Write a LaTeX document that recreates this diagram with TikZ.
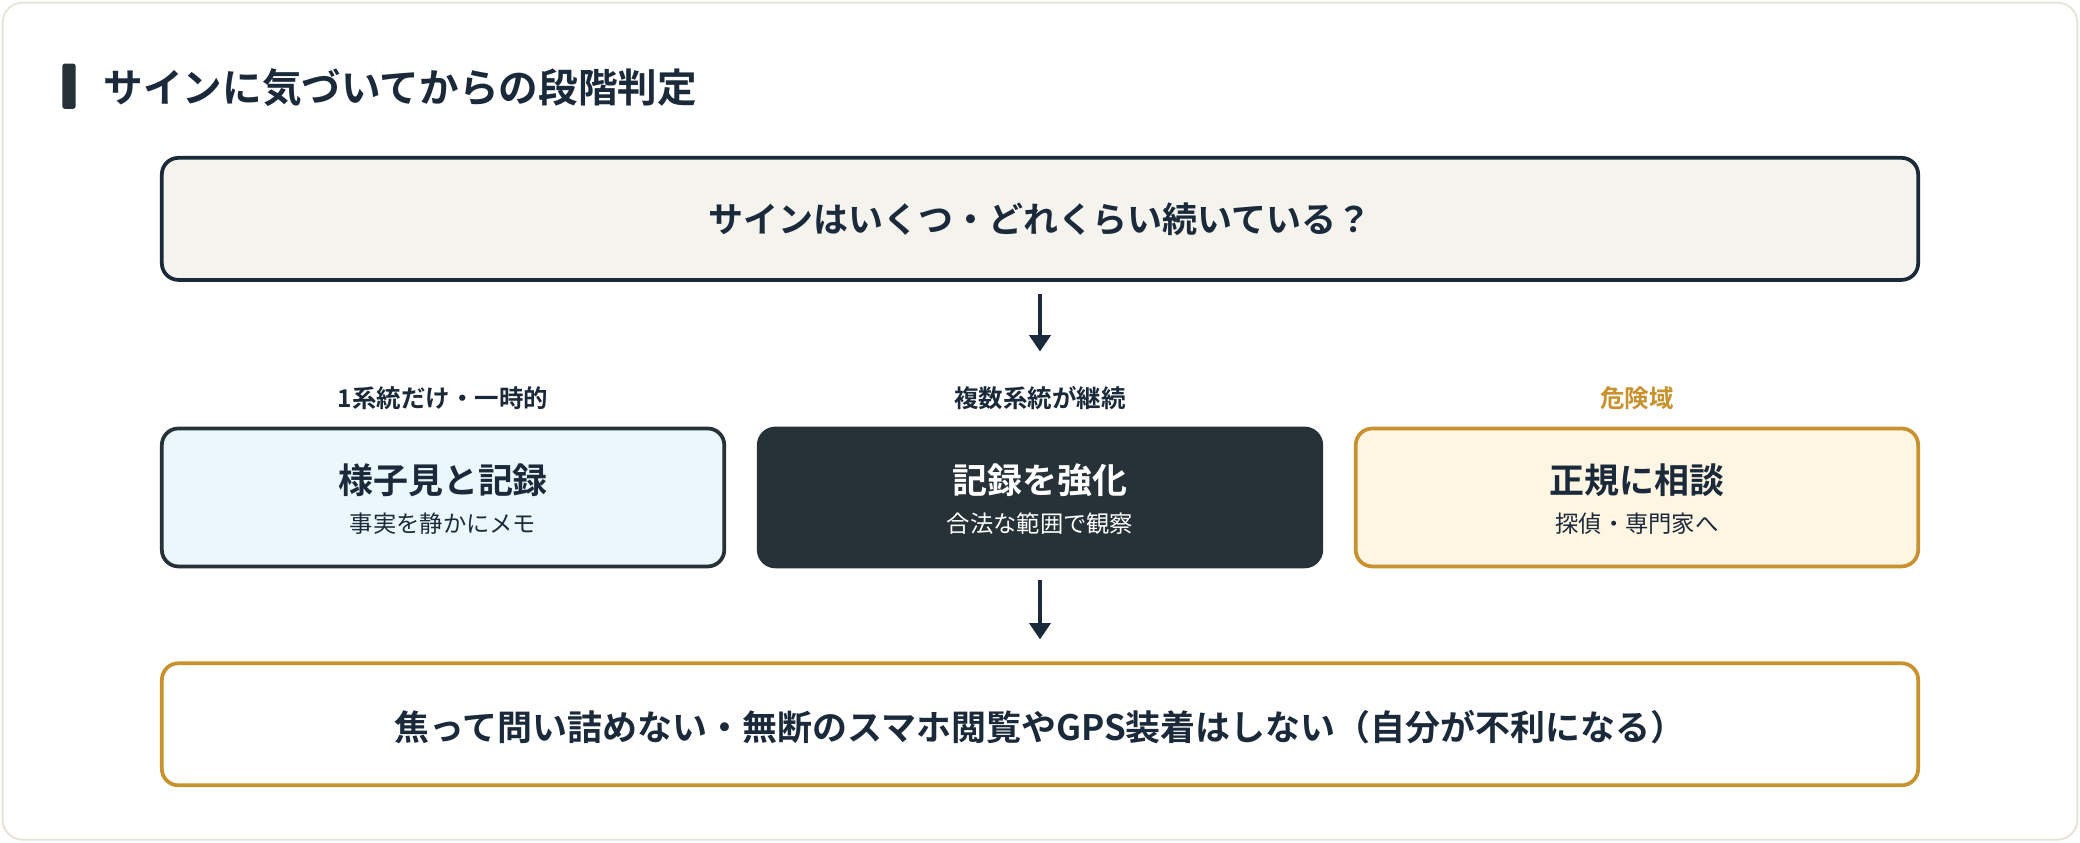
\documentclass[tikz,border=0pt]{standalone}
\usepackage{fontspec}
\setmainfont{Noto Sans CJK JP}
\newfontfamily\jpb{Noto Sans CJK JP Bold}
\usetikzlibrary{arrows.meta}
\definecolor{ink}{HTML}{1B2A3A}
\definecolor{dark}{HTML}{263238}
\definecolor{gold}{HTML}{C8922E}
\definecolor{beige}{HTML}{F5F3EE}
\definecolor{lblue}{HTML}{EAF7FD}
\definecolor{lorange}{HTML}{FFF5E3}
\definecolor{frame}{HTML}{E6E2D6}
\begin{document}
\begin{tikzpicture}[x=0.02cm,y=-0.02cm,
 box/.style={draw, line width=1.6pt, rounded corners=0.25cm},
 main/.style={font=\jpb\fontsize{15}{18}\selectfont, text=ink},
 sub/.style={font=\fontsize{10}{12}\selectfont, text=ink},
 lab/.style={font=\jpb\fontsize{10.5}{12}\selectfont, text=ink},
 arr/.style={-{Triangle[length=7pt,width=9pt]}, line width=1.6pt, draw=ink}]
\useasboundingbox (0,0) rectangle (1568,635);
\draw[frame, fill=white, line width=0.8pt, rounded corners=0.3cm] (2,2) rectangle (1566,633);
\fill[dark, rounded corners=1pt] (47,48) rectangle (57,82);
\node[anchor=west, font=\jpb\fontsize{17}{20}\selectfont, text=ink] (title) at (72,66) {サインに気づいてからの段階判定};
\draw[box, draw=ink, fill=beige] (122,119) rectangle (1446,211);
\node[main] (q) at (784,165) {サインはいくつ・どれくらい続いている？};
\coordinate (a1s) at (784,222); \coordinate (a1e) at (784,265);
\draw[arr] (a1s) -- (a1e);
\node[lab] (l1) at (334,300) {1系統だけ・一時的};
\node[lab] (l2) at (784,300) {複数系統が継続};
\node[lab, text=gold] (l3) at (1234,300) {危険域};
\draw[box, draw=dark, fill=lblue] (122,323) rectangle (546,427);
\node[main] (a) at (334,362) {様子見と記録};
\node[sub] (as) at (334,395) {事実を静かにメモ};
\draw[box, draw=dark, fill=dark] (572,323) rectangle (996,427);
\node[main, text=white] (b) at (784,362) {記録を強化};
\node[sub, text=white] (bs) at (784,395) {合法な範囲で観察};
\draw[box, draw=gold, fill=lorange] (1022,323) rectangle (1446,427);
\node[main] (c) at (1234,362) {正規に相談};
\node[sub] (cs) at (1234,395) {探偵・専門家へ};
\coordinate (a2s) at (784,437); \coordinate (a2e) at (784,482);
\draw[arr] (a2s) -- (a2e);
\draw[box, draw=gold, fill=white] (122,500) rectangle (1446,592);
\node[main] (w) at (784,548) {焦って問い詰めない・無断のスマホ閲覧やGPS装着はしない（自分が不利になる）};
\end{tikzpicture}
\end{document}
